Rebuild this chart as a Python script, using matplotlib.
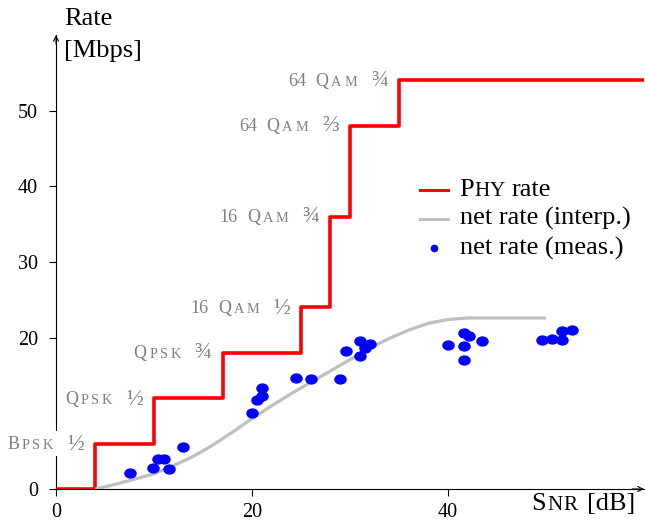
import numpy as np
import matplotlib
matplotlib.use("Agg")
import matplotlib.pyplot as plt
from matplotlib.lines import Line2D
from matplotlib.markers import MarkerStyle
from matplotlib.transforms import Affine2D
from matplotlib.offsetbox import TextArea, HPacker, VPacker, DrawingArea, AnnotationBbox

plt.rcParams['font.family'] = ['Liberation Serif', 'DejaVu Serif']

# PHY rate (steps)
phy_snr = [0, 4, 10, 17, 25, 28, 30, 35, 60]
phy_rate = [0, 6, 12, 18, 24, 36, 48, 54, 54]
# modulation labels, |..| = small caps
mod_labels = ["|Bpsk|  ½", "|Qpsk|  ½", "|Qpsk|  ¾", "16 |Qam|  ½",
              "16 |Qam|  ¾", "64 |Qam|  ⅔", "64 |Qam|  ¾"]

# net rate interpolado
interp_snr = [4, 6, 8, 10, 12, 14, 16, 18, 20, 22, 24, 26, 28, 30,
              32, 34, 36, 38, 40, 42, 44, 46, 48, 50]
interp_rate = [0.0, 0.6, 1.3, 2.0, 3.1, 4.3, 5.8, 7.5, 9.3, 11.0, 12.6, 14.1,
               15.6, 17.1, 18.6, 19.9, 21.0, 21.9, 22.4, 22.6, 22.6, 22.6, 22.6, 22.6]

# net rate medido
meas_snr = [7.5, 9.9, 10.4, 11.0, 11.5, 13.0, 20.0, 20.5, 21.0, 21.0, 24.5, 26.0,
            29.0, 29.6, 31.0, 31.0, 31.5, 32.0, 40.0, 41.6, 42.1, 41.6, 41.6, 43.5,
            49.6, 50.6, 51.6, 51.6, 52.7]
meas_rate = [2.1, 2.8, 3.9, 3.9, 2.7, 5.6, 10.0, 11.8, 12.3, 13.3, 14.7, 14.5,
             14.6, 18.3, 19.5, 17.6, 18.6, 19.2, 19.0, 20.6, 20.2, 18.9, 17.0, 19.5,
             19.7, 19.8, 19.7, 20.9, 21.0]

xticks = [0, 20, 40]
yticks = [0, 20, 30, 40, 50]

RED = '#ff0000'
GRAY = '#bfbfbf'
BLUE = '#0000ff'
TXTGRAY = '#808080'
SC = 0.8  # tamaño de small caps
FRAC = '½¾⅔'


def spacer(n, size):
    return DrawingArea(n * 0.25 * size, 1, 0, 0)


def smallcaps(s, size, color='black', track=1.5):
    # arma un HPacker con letras grandes y "small caps"
    parts = []
    for j, seg in enumerate(s.split('|')):
        if j % 2 == 0:
            core = seg.strip(' ')
            nl = len(seg) - len(seg.lstrip(' '))
            nr = len(seg) - len(seg.rstrip(' '))
            if not core:
                if seg:
                    parts.append(spacer(len(seg), size))
                continue
            if nl:
                parts.append(spacer(nl, size))
            sz = size * 1.25 if core in FRAC else size
            parts.append(TextArea(core, textprops=dict(size=sz, color=color)))
            if nr:
                parts.append(spacer(nr, size))
            continue
        for ch in seg:
            sz = size if ch.isupper() else size * SC
            parts.append(TextArea(ch.upper(), textprops=dict(size=sz, color=color)))
    return HPacker(children=parts, align='baseline', pad=0, sep=track)


fig = plt.figure(figsize=(6.45, 5.24), dpi=100)
ax = fig.add_axes([56 / 645, 35 / 524, 588 / 645, 454 / 524])

ax.plot(phy_snr, phy_rate, drawstyle='steps-post', color=RED, lw=2.6, zorder=3)
ax.plot(interp_snr, interp_rate, color=GRAY, lw=2.3, zorder=3, solid_capstyle='butt')
mk = MarkerStyle('o', transform=Affine2D().scale(1.0, 0.8))
ax.plot(meas_snr, meas_rate, linestyle='none', marker=mk, ms=8, color=BLUE, zorder=4)

# etiquetas de modulacion
for lab, xs, ys in zip(mod_labels, phy_snr[1:8], phy_rate[1:8]):
    box = smallcaps(lab, 13, TXTGRAY, track=1.8)
    ab = AnnotationBbox(box, (xs, ys), xybox=(-8, 0), boxcoords='offset points',
                        box_alignment=(1, 0.5), frameon=True, pad=0.15,
                        bboxprops=dict(fc='white', ec='none'), zorder=6)
    ax.add_artist(ab)

ax.set_xlim(0, 60)
ax.set_ylim(0, 60)
ax.set_xticks(xticks)
ax.set_yticks(yticks)
ax.tick_params(direction='out', length=5, width=0.8, labelsize=14.5)
ax.tick_params(axis='y', pad=8)
ax.tick_params(axis='x', pad=5)
for sp in ['top', 'right']:
    ax.spines[sp].set_visible(False)
for sp in ['left', 'bottom']:
    ax.spines[sp].set_linewidth(0.8)

# flechas de los ejes
ax.annotate('', xy=(1, 0), xytext=(0.98, 0), xycoords='axes fraction',
            arrowprops=dict(arrowstyle='->', lw=0.8, shrinkA=0, shrinkB=0, mutation_scale=9),
            annotation_clip=False)
ax.annotate('', xy=(0, 1), xytext=(0, 0.98), xycoords='axes fraction',
            arrowprops=dict(arrowstyle='->', lw=0.8, shrinkA=0, shrinkB=0, mutation_scale=9),
            annotation_clip=False)

# etiquetas de ejes
fig.text(64 / 645, 1 - 25 / 524, 'Rate', size=19, ha='left', va='baseline')
fig.text(64 / 645, 1 - 57 / 524, '[Mbps]', size=19, ha='left', va='baseline')
xl = smallcaps('|Snr| [dB]', 19, track=1.0)
ax.add_artist(AnnotationBbox(xl, (0.985, 0), xycoords='axes fraction', xybox=(0, -3),
                             boxcoords='offset points', box_alignment=(1, 1),
                             frameon=False, pad=0, annotation_clip=False))

# leyenda manual
rows = []
handles = [Line2D([0, 20], [5, 5], color=RED, lw=2.2),
           Line2D([0, 20], [5, 5], color=GRAY, lw=2.2),
           Line2D([10], [5], linestyle='none', marker='o', ms=4.5, color=BLUE)]
labels = ['P|hy| rate', 'net rate (interp.)', 'net rate (meas.)']
for h, lab in zip(handles, labels):
    da = DrawingArea(20, 10, 0, 0)
    da.add_artist(h)
    rows.append(HPacker(children=[da, smallcaps(lab, 19, track=0)], align='center', pad=0, sep=8.5))
leg = VPacker(children=rows, align='left', pad=0, sep=4.6)
ax.add_artist(AnnotationBbox(leg, ((420 - 56) / 588, (489 - 179) / 454), xycoords='axes fraction',
                             box_alignment=(0, 1), frameon=False, pad=0))

fig.savefig('out.png', dpi=100)
